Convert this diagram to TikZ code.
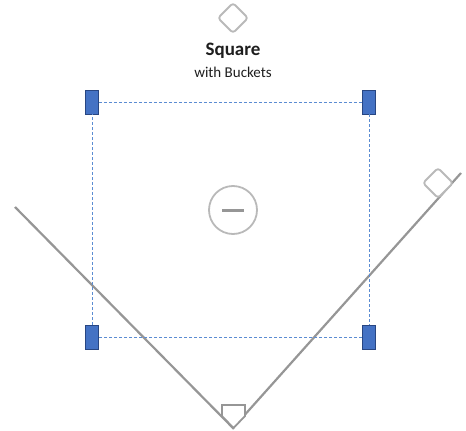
\documentclass[tikz,border=0pt]{standalone}
\usepackage{fontspec}
\setmainfont{Carlito}
\definecolor{linegray}{RGB}{150,150,150}
\definecolor{lightgray2}{RGB}{185,185,185}
\definecolor{bucketfill}{RGB}{68,114,196}
\definecolor{bucketdraw}{RGB}{40,70,130}
\definecolor{dashblue}{RGB}{91,140,210}
\definecolor{textdark}{RGB}{30,30,30}
\begin{document}
\begin{tikzpicture}[x=1pt,y=-1pt,
  bucket/.style={draw=bucketdraw,fill=bucketfill,line width=0.8pt,minimum width=13pt,minimum height=24pt,inner sep=0pt,rectangle},
  guide/.style={draw=dashblue,line width=0.7pt,dash pattern=on 3pt off 2pt},
  baseline/.style={draw=linegray,line width=2.2pt},
  base/.style={draw=lightgray2,line width=1.8pt,rounded corners=3pt,fill=white}]
\useasboundingbox (0,0) rectangle (466,431);
% field lines
\coordinate (third) at (15,207);
\coordinate (home) at (233,428);
\coordinate (first) at (461,173);
\draw[baseline] (third) -- (home) -- (first);
% guide square
\node[bucket] (b1) at (92,102) {};
\node[bucket] (b2) at (369,102) {};
\node[bucket] (b3) at (92,337) {};
\node[bucket] (b4) at (369,337) {};
\draw[guide] (b1) -- (b2);
\draw[guide] (b2) -- (b4);
\draw[guide] (b4) -- (b3);
\draw[guide] (b3) -- (b1);
% bases
\draw[base] (233,3) -- (248,18) -- (233,33) -- (218,18) -- cycle;
\draw[base] (438,168) -- (453,183) -- (438,198) -- (423,183) -- cycle;
\draw[draw=linegray,line width=1.8pt,fill=white,line join=miter] (222,405) -- (245,405) -- (245,416) -- (233.5,428) -- (222,416) -- cycle;
% center circle
\node[circle,draw=lightgray2,line width=1.8pt,minimum size=48pt,inner sep=0pt] (c) at (233,210) {};
\draw[draw=linegray,line width=3pt] (222,210) -- (244,210);
% label
\node[font=\bfseries\fontsize{19}{21}\selectfont,text=textdark,inner sep=0pt] (t1) at (233,51) {Square};
\node[font=\fontsize{15}{17}\selectfont,text=textdark,inner sep=0pt] (t2) at (233,72) {with Buckets};
\end{tikzpicture}
\end{document}
